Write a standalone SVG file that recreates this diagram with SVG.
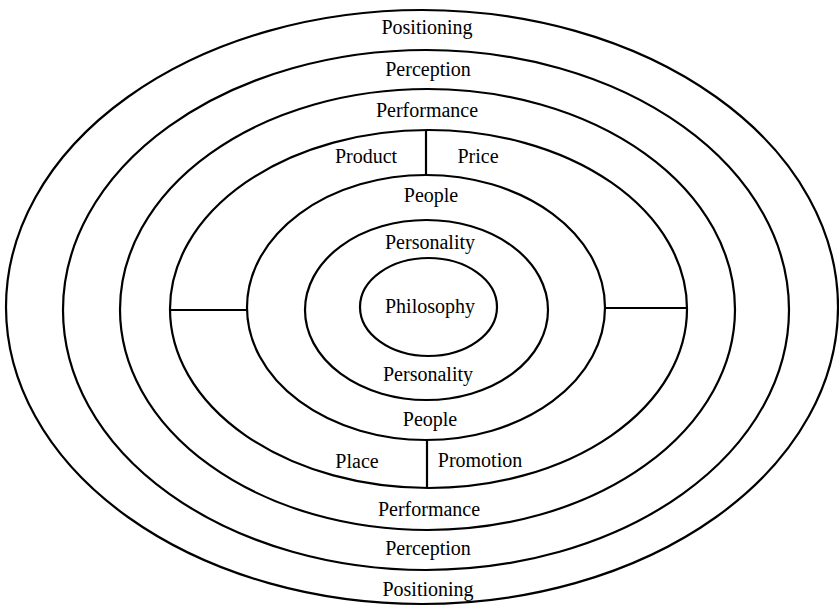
<svg xmlns="http://www.w3.org/2000/svg" width="839" height="606" viewBox="0 0 839 606">
<style>
.ring{fill:none;stroke:#000;stroke-width:2.2}
.sep{stroke:#000;stroke-width:2.2}
text{font-family:"Liberation Serif","Times New Roman",serif;font-size:20px;fill:#000;text-anchor:middle}
</style>
<rect width="839" height="606" fill="#fff"/>
<g id="ring-positioning"><ellipse class="ring" cx="422" cy="307" rx="416" ry="297"/><text x="427" y="34">Positioning</text><text x="428" y="596">Positioning</text></g>
<g id="ring-perception"><ellipse class="ring" cx="426" cy="310" rx="363" ry="260"/><text x="428" y="76">Perception</text><text x="428" y="555">Perception</text></g>
<g id="ring-performance"><ellipse class="ring" cx="427.5" cy="309.5" rx="307.5" ry="220.5"/><text x="427" y="117">Performance</text><text x="429" y="516">Performance</text></g>
<g id="ring-4p"><ellipse class="ring" cx="428.5" cy="309" rx="258.5" ry="179"/>
<text x="366" y="163">Product</text><text x="478" y="163">Price</text><text x="357" y="468">Place</text><text x="480" y="467">Promotion</text></g>
<g id="ring-people"><ellipse class="ring" cx="426" cy="307.5" rx="179" ry="132.5"/><text x="431" y="202">People</text><text x="430" y="426">People</text></g>
<g id="ring-personality"><ellipse class="ring" cx="426.5" cy="310" rx="121.5" ry="90"/><text x="430" y="249">Personality</text><text x="428" y="381">Personality</text></g>
<g id="philosophy"><ellipse class="ring" cx="428.5" cy="307" rx="68.5" ry="49"/><text x="430" y="313">Philosophy</text></g>
<g id="connectors">
<line class="sep" x1="426" y1="130" x2="426" y2="175"/>
<line class="sep" x1="427" y1="440" x2="427" y2="488"/>
<line class="sep" x1="170" y1="310" x2="247" y2="310"/>
<line class="sep" x1="605" y1="308" x2="687" y2="308"/>
</g>
</svg>
